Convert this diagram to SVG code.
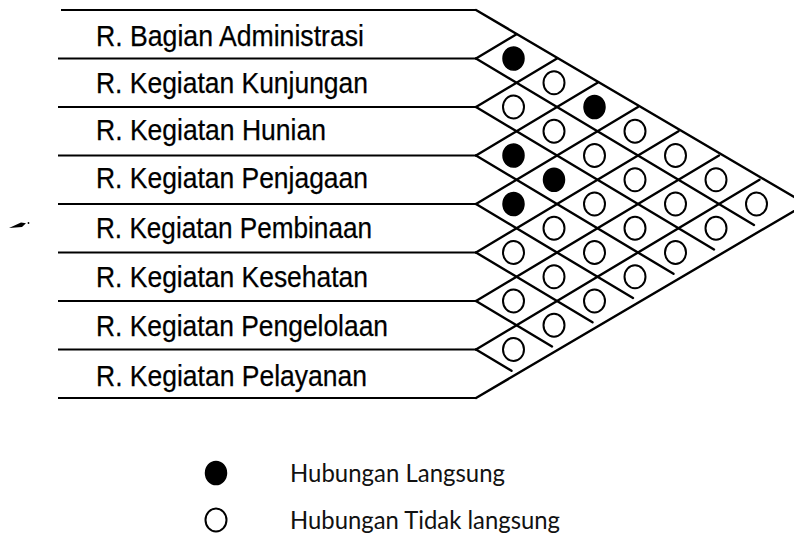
<svg xmlns="http://www.w3.org/2000/svg" width="794" height="536" viewBox="0 0 794 536">
<style>
.hl{stroke:#000;stroke-width:2;fill:none}
.dl{stroke:#000;stroke-width:2.4;fill:none;stroke-linecap:round}
.lbl{font-family:"Liberation Sans",Arial,sans-serif;font-size:29px;fill:#000;stroke:#000;stroke-width:0.25}
.leg{font-family:Lato,"Open Sans",sans-serif;font-size:25px;fill:#111}
.f{fill:#000;stroke:#000;stroke-width:1.5}
.o{fill:#fff;stroke:#000;stroke-width:2}
</style>
<rect width="794" height="536" fill="#fff"/>
<g id="rows">
<g id="row-administrasi"><line class="hl" x1="61" y1="10" x2="476" y2="10"/><text class="lbl" x="96" y="46" textLength="268" lengthAdjust="spacingAndGlyphs">R. Bagian Administrasi</text></g>
<g id="row-kunjungan"><line class="hl" x1="58" y1="58.5" x2="476" y2="58.5"/><text class="lbl" x="96" y="93" textLength="272" lengthAdjust="spacingAndGlyphs">R. Kegiatan Kunjungan</text></g>
<g id="row-hunian"><line class="hl" x1="58" y1="107" x2="476" y2="107"/><text class="lbl" x="96" y="140" textLength="230" lengthAdjust="spacingAndGlyphs">R. Kegiatan Hunian</text></g>
<g id="row-penjagaan"><line class="hl" x1="58" y1="155.5" x2="476" y2="155.5"/><text class="lbl" x="96" y="188" textLength="272" lengthAdjust="spacingAndGlyphs">R. Kegiatan Penjagaan</text></g>
<g id="row-pembinaan"><line class="hl" x1="58" y1="204" x2="476" y2="204"/><text class="lbl" x="96" y="238" textLength="276" lengthAdjust="spacingAndGlyphs">R. Kegiatan Pembinaan</text></g>
<g id="row-kesehatan"><line class="hl" x1="58" y1="252.5" x2="476" y2="252.5"/><text class="lbl" x="96" y="287" textLength="272" lengthAdjust="spacingAndGlyphs">R. Kegiatan Kesehatan</text></g>
<g id="row-pengelolaan"><line class="hl" x1="58" y1="301" x2="476" y2="301"/><text class="lbl" x="96" y="336" textLength="292" lengthAdjust="spacingAndGlyphs">R. Kegiatan Pengelolaan</text></g>
<g id="row-pelayanan"><line class="hl" x1="58" y1="349.5" x2="476" y2="349.5"/><text class="lbl" x="96" y="386" textLength="271" lengthAdjust="spacingAndGlyphs">R. Kegiatan Pelayanan</text><line class="hl" x1="58" y1="398" x2="476" y2="398"/></g>
</g>
<g id="connectors">
<polyline class="dl" points="476,10 806,204 476,398"/>
<line class="dl" x1="476" y1="58.5" x2="516.5" y2="34.25"/>
<line class="dl" x1="476" y1="107" x2="557" y2="58.5"/>
<line class="dl" x1="476" y1="155.5" x2="597.5" y2="82.75"/>
<line class="dl" x1="476" y1="204" x2="638" y2="107"/>
<line class="dl" x1="476" y1="252.5" x2="678.5" y2="131.25"/>
<line class="dl" x1="476" y1="301" x2="719" y2="155.5"/>
<line class="dl" x1="476" y1="349.5" x2="759.5" y2="179.75"/>
<line class="dl" x1="476" y1="58.5" x2="754" y2="225"/>
<line class="dl" x1="476" y1="107" x2="714" y2="249.5"/>
<line class="dl" x1="476" y1="155.5" x2="673.5" y2="273.8"/>
<line class="dl" x1="476" y1="204" x2="633" y2="298"/>
<line class="dl" x1="476" y1="252.5" x2="592.5" y2="322.3"/>
<line class="dl" x1="476" y1="301" x2="552" y2="346.5"/>
<line class="dl" x1="476" y1="349.5" x2="511.5" y2="370.8"/>
</g>
<g id="relations">
<ellipse class="f" cx="513.5" cy="58.5" rx="10.5" ry="11.5"/>
<ellipse class="o" cx="513.5" cy="107" rx="10.5" ry="11.5"/>
<ellipse class="f" cx="513.5" cy="155.5" rx="10.5" ry="11.5"/>
<ellipse class="f" cx="513.5" cy="204" rx="10.5" ry="11.5"/>
<ellipse class="o" cx="513.5" cy="252.5" rx="10.5" ry="11.5"/>
<ellipse class="o" cx="513.5" cy="301" rx="10.5" ry="11.5"/>
<ellipse class="o" cx="513.5" cy="349.5" rx="10.5" ry="11.5"/>
<ellipse class="o" cx="554" cy="82.75" rx="10.5" ry="11.5"/>
<ellipse class="o" cx="554" cy="131.25" rx="10.5" ry="11.5"/>
<ellipse class="f" cx="554" cy="179.75" rx="10.5" ry="11.5"/>
<ellipse class="o" cx="554" cy="228.25" rx="10.5" ry="11.5"/>
<ellipse class="o" cx="554" cy="276.75" rx="10.5" ry="11.5"/>
<ellipse class="o" cx="554" cy="325.25" rx="10.5" ry="11.5"/>
<ellipse class="f" cx="594.5" cy="107" rx="10.5" ry="11.5"/>
<ellipse class="o" cx="594.5" cy="155.5" rx="10.5" ry="11.5"/>
<ellipse class="o" cx="594.5" cy="204" rx="10.5" ry="11.5"/>
<ellipse class="o" cx="594.5" cy="252.5" rx="10.5" ry="11.5"/>
<ellipse class="o" cx="594.5" cy="301" rx="10.5" ry="11.5"/>
<ellipse class="o" cx="635" cy="131.25" rx="10.5" ry="11.5"/>
<ellipse class="o" cx="635" cy="179.75" rx="10.5" ry="11.5"/>
<ellipse class="o" cx="635" cy="228.25" rx="10.5" ry="11.5"/>
<ellipse class="o" cx="635" cy="276.75" rx="10.5" ry="11.5"/>
<ellipse class="o" cx="675.5" cy="155.5" rx="10.5" ry="11.5"/>
<ellipse class="o" cx="675.5" cy="204" rx="10.5" ry="11.5"/>
<ellipse class="o" cx="675.5" cy="252.5" rx="10.5" ry="11.5"/>
<ellipse class="o" cx="716" cy="179.75" rx="10.5" ry="11.5"/>
<ellipse class="o" cx="716" cy="228.25" rx="10.5" ry="11.5"/>
<ellipse class="o" cx="756.5" cy="204" rx="10.5" ry="11.5"/>
</g>
<g id="legend">
<g id="legend-langsung"><ellipse class="f" cx="216" cy="473" rx="10.5" ry="11.5"/><text class="leg" x="290" y="482" textLength="215" lengthAdjust="spacingAndGlyphs">Hubungan Langsung</text></g>
<g id="legend-tidak-langsung"><ellipse class="o" cx="216" cy="520" rx="10.5" ry="11.5"/><text class="leg" x="290" y="529" textLength="270" lengthAdjust="spacingAndGlyphs">Hubungan Tidak langsung</text></g>
</g>
<g id="mark"><polygon points="9,228 21,222.5 26,223.3 22,227" fill="#000"/><circle cx="28.5" cy="223" r="0.9" fill="#000"/></g>
</svg>
